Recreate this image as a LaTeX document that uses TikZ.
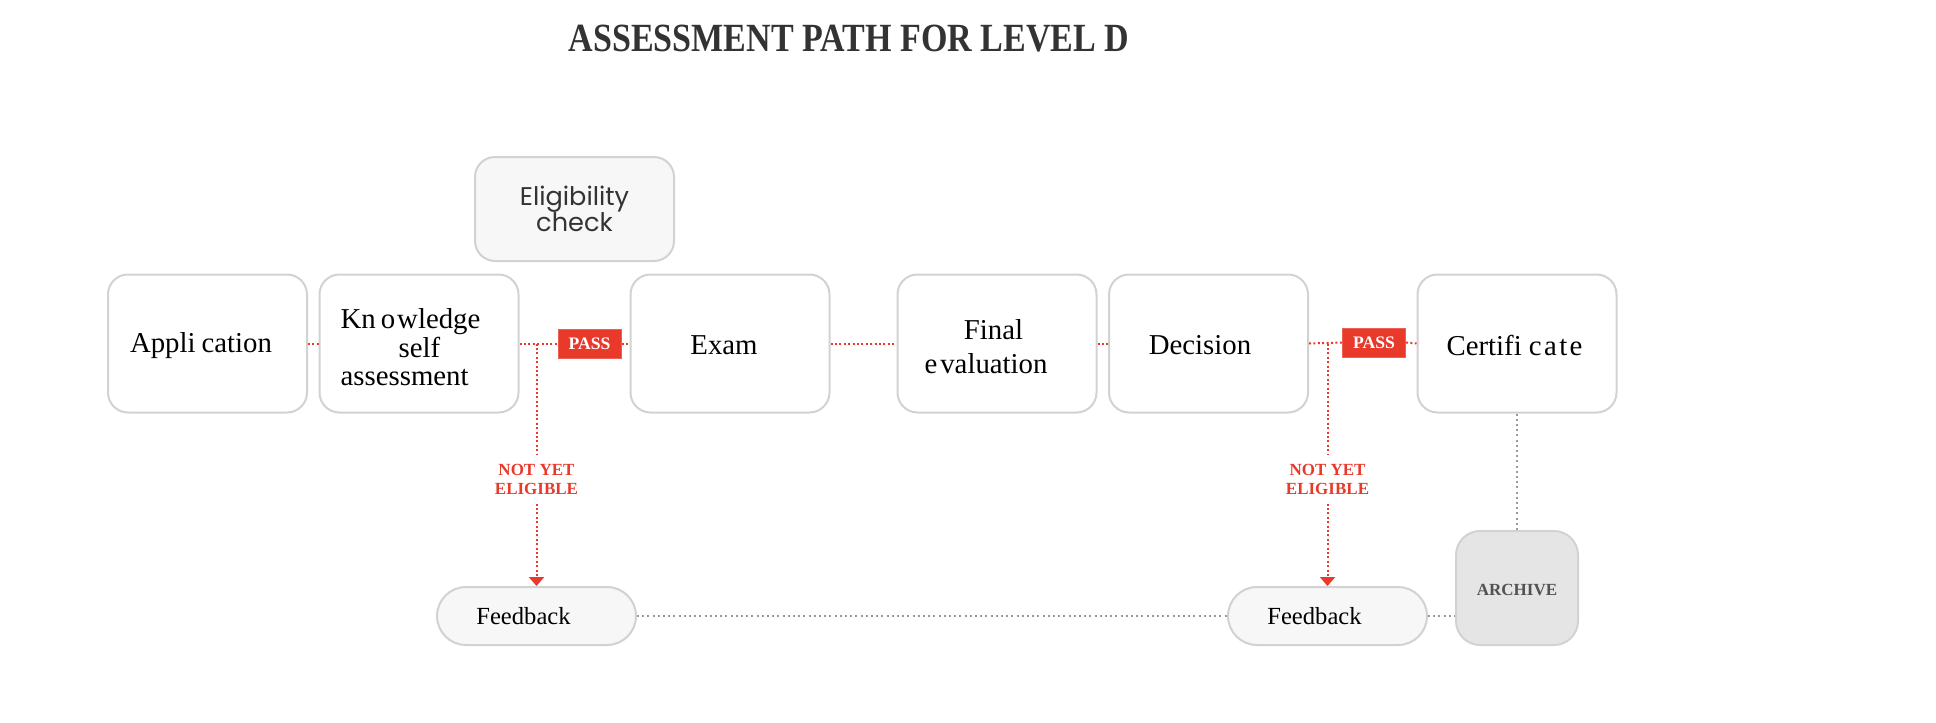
\documentclass[tikz,border=0pt]{standalone}
\usepackage{fontspec}
\usepackage{graphicx}
\setmainfont{Liberation Serif}
\newfontfamily\eligfont{Poppins}
\usetikzlibrary{arrows.meta}
\definecolor{redc}{HTML}{E8392B}
\definecolor{bordc}{HTML}{D2D2D2}
\definecolor{lightfill}{HTML}{F7F7F7}
\definecolor{archfill}{HTML}{E5E5E5}
\definecolor{darktext}{HTML}{333333}
\definecolor{dotgray}{HTML}{9A9A9A}
\begin{document}
\begin{tikzpicture}[x=0.5pt,y=-0.5pt,
  mainbox/.style={draw=bordc, line width=1pt, fill=white, rounded corners=10pt,
    minimum width=99.5pt, minimum height=69pt, inner sep=0pt},
  mtext/.style={inner sep=0pt, align=center, font=\fontsize{14.4}{17}\selectfont, text=black},
  eligbox/.style={draw=bordc, line width=1pt, fill=lightfill, rounded corners=10pt,
    minimum width=99.5pt, minimum height=52pt, inner sep=0pt, align=center,
    font=\eligfont\fontsize{12.8}{13}\selectfont, text=darktext},
  fbbox/.style={draw=bordc, line width=1pt, fill=lightfill, rounded corners=14.5pt,
    minimum width=99.5pt, minimum height=29pt, inner sep=0pt,
    font=\fontsize{12.3}{14}\selectfont, text=black},
  archbox/.style={draw=bordc, line width=1pt, fill=archfill, rounded corners=12pt,
    minimum width=61pt, minimum height=57pt, inner sep=0pt},
  archtext/.style={inner sep=0pt, font=\bfseries\fontsize{8.5}{10}\selectfont, text=darktext!85},
  passbox/.style={fill=redc, draw=redc!80!white, line width=0.5pt, minimum width=31.5pt, minimum height=14.5pt,
    inner sep=0pt, font=\bfseries\fontsize{8.8}{10}\selectfont, text=white},
  nyelabel/.style={inner xsep=2pt, inner ysep=4.5pt, align=center, text=redc,
    font=\bfseries\fontsize{8.5}{9.5}\selectfont},
  reddot/.style={draw=redc, line width=1pt, dash pattern=on 1pt off 1.2pt},
  graydot/.style={draw=dotgray, line width=1pt, dash pattern=on 1pt off 1.6pt}
]
\useasboundingbox (0,0) rectangle (1936,722);

% title
\node[font=\bfseries\fontsize{20}{20}\selectfont, text=darktext, inner sep=0pt] (title) at (849,38.5)
  {\scalebox{0.851}[1]{ASSESSMENT PATH FOR LEVEL D}};

% top box
\node[eligbox] (elig) at (574.5,209) {Eligibility\\check};

% main row boxes
\node[mainbox] (app) at (207.5,343.5) {};
\node[mainbox] (know) at (419,343.5) {};
\node[mainbox] (exam) at (730,343.5) {};
\node[mainbox] (final) at (997,343.5) {};
\node[mainbox] (dec) at (1208.5,343.5) {};
\node[mainbox] (cert) at (1517,343.5) {};

% main row texts
\node[mtext] (apptxt) at ([shift={(-6.5,2)}]app.center) {Appli\kern3pt cation};
\node[mtext, align=left, font=\fontsize{14.4}{14.3}\selectfont] (knowtxt) at ([shift={(-8.5,4)}]know.center)
  {Kn\kern2.5pt o\kern1pt wledge\\\hspace*{29pt}self\\assessment};
\node[mtext] (examtxt) at ([shift={(-6,2)}]exam.center) {Exam};
\node[mtext] (finaltxt) at ([shift={(-11,3)}]final.center) {Final\hspace*{-7.5pt}\\e\kern1.5pt valuation};
\node[mtext] (dectxt) at ([shift={(-8.5,2)}]dec.center) {Decision};
\node[mtext] (certtxt) at ([shift={(-2.5,2)}]cert.center) {Certifi c\kern1.2pt a\kern1.2pt t\kern1.2pt e};

% pass badges
\node[passbox] (pass1) at (589.5,343.5) {PASS};
\node[passbox] (pass2) at (1374,342.5) {PASS};

% bottom row
\node[fbbox] (fb1) at (536.5,616) {Feedback\hspace*{13pt}};
\node[fbbox] (fb2) at (1327.5,616) {Feedback\hspace*{13pt}};
\node[archbox] (arch) at (1517,588) {};
\node[archtext] (archtxt) at ([shift={(0,2)}]arch.center) {ARCHIVE};

% not yet eligible labels
\node[nyelabel] (nye1) at (536.5,479) {NOT YET\\ELIGIBLE};
\node[nyelabel] (nye2) at (1327.5,479) {NOT YET\\ELIGIBLE};

% branch points
\coordinate (br1) at (fb1.north |- know.east);
\coordinate (br2) at (fb2.north |- dec.east);

% red connectors
\draw[reddot] (app.east) -- (know.west);
\draw[reddot] (know.east) -- (pass1.west);
\draw[reddot] (pass1.east) -- (exam.west);
\draw[reddot] (exam.east) -- (final.west);
\draw[reddot] (final.east) -- (dec.west);
\draw[reddot] (dec.east) -- (pass2.west);
\draw[reddot] (pass2.east) -- (cert.west);

\draw[reddot] (br1) -- (nye1.north);
\draw[reddot, -{Triangle[width=7.5pt,length=4.5pt]}] (nye1.south) -- (fb1.north);
\draw[reddot] (br2) -- (nye2.north);
\draw[reddot, -{Triangle[width=7.5pt,length=4.5pt]}] (nye2.south) -- (fb2.north);

% gray connectors
\draw[graydot] (fb1.east) -- (fb2.west);
\draw[graydot] (fb2.east) -- (arch.west |- fb2.east);
\draw[graydot] (cert.south) -- (arch.north);
\end{tikzpicture}
\end{document}
